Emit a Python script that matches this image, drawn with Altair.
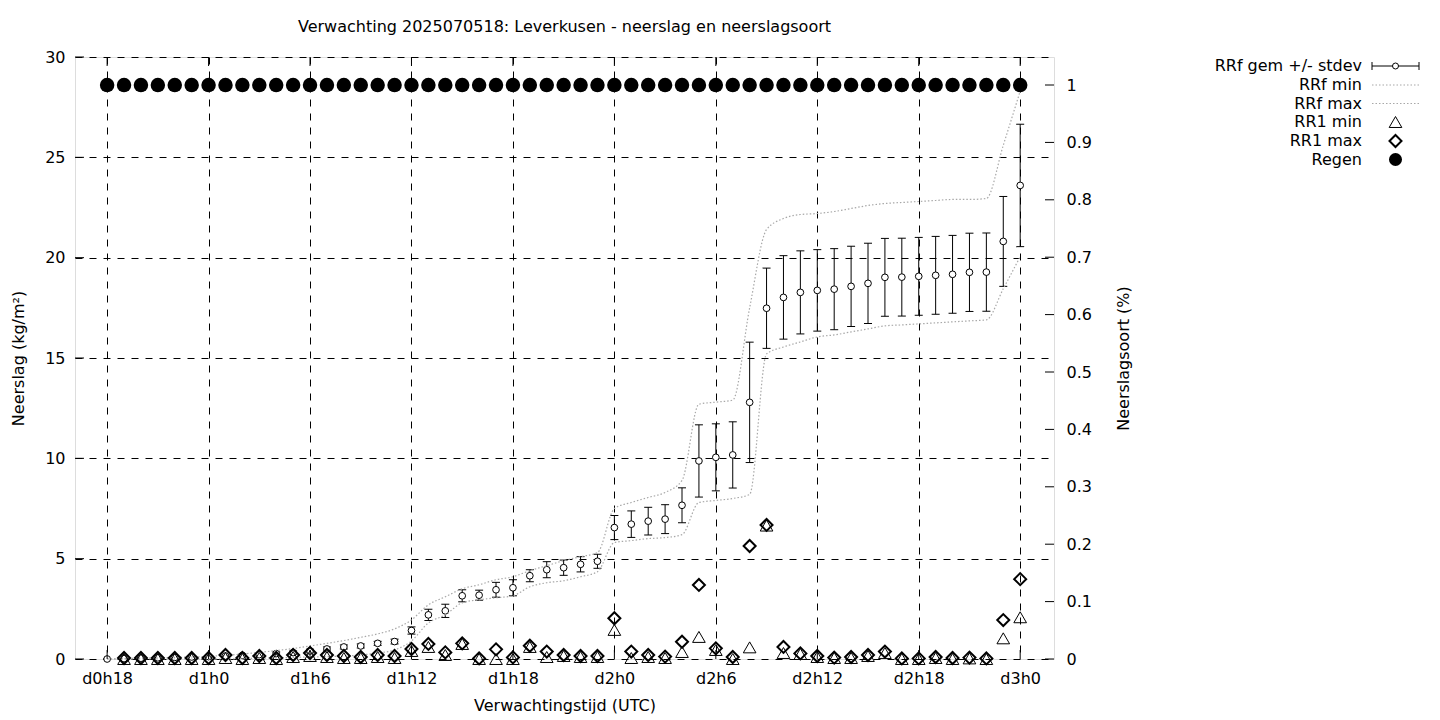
import altair as alt
import pandas as pd

# Forecast hours (lead time in hours from the 2025070518 run)
hours = list(range(18, 73))

# RRf: accumulated precipitation, ensemble mean / stdev / min / max (kg/m2)
rrf_mean = [0.0, 0.02, 0.04, 0.06, 0.08, 0.1, 0.12, 0.15, 0.18, 0.22,
            0.27, 0.32, 0.4, 0.5, 0.6, 0.65, 0.78, 0.87, 1.42, 2.2,
            2.4, 3.15, 3.18, 3.45, 3.55, 4.15, 4.45, 4.55, 4.72, 4.87,
            6.55, 6.72, 6.87, 6.97, 7.66, 9.87, 10.05, 10.17, 12.79, 17.48,
            18.02, 18.27, 18.37, 18.43, 18.57, 18.72, 19.02, 19.03, 19.07, 19.12,
            19.17, 19.27, 19.28, 20.81, 23.6]
rrf_sd = [0.0, 0.02, 0.03, 0.04, 0.05, 0.05, 0.06, 0.06, 0.07, 0.07,
          0.08, 0.08, 0.09, 0.1, 0.1, 0.1, 0.1, 0.12, 0.18, 0.28,
          0.33, 0.3, 0.25, 0.37, 0.4, 0.3, 0.4, 0.38, 0.38, 0.35,
          0.6, 0.66, 0.69, 0.72, 0.87, 1.8, 1.67, 1.65, 3.0, 2.0,
          2.08, 2.07, 2.03, 2.02, 2.0, 2.0, 1.94, 1.94, 1.94, 1.94,
          1.94, 1.95, 1.95, 2.24, 3.05]
rrf_min = [0.0, 0.0, 0.0, 0.0, 0.0, 0.0, 0.0, 0.0, 0.02, 0.04,
           0.06, 0.08, 0.1, 0.12, 0.15, 0.2, 0.3, 0.45, 0.9, 1.8,
           2.2, 2.8, 2.95, 3.05, 3.15, 3.6, 3.8, 3.9, 4.1, 4.35,
           5.8, 5.9, 6.0, 6.05, 6.2, 7.8, 7.9, 8.0, 8.2, 15.2,
           15.55, 15.8, 16.05, 16.15, 16.3, 16.45, 16.6, 16.65, 16.7, 16.75,
           16.8, 16.85, 16.9, 18.45, 20.05]
rrf_max = [0.0, 0.02, 0.04, 0.06, 0.08, 0.1, 0.13, 0.18, 0.25, 0.33,
           0.42, 0.52, 0.65, 0.78, 0.92, 1.08, 1.25, 1.5, 1.95, 2.7,
           3.1, 3.5, 3.7, 3.95, 4.1, 4.4, 4.65, 4.9, 5.1, 5.3,
           7.5, 7.8, 8.05, 8.3, 8.9, 12.7, 12.8, 12.9, 17.5, 21.4,
           21.95, 22.15, 22.2, 22.3, 22.45, 22.6, 22.7, 22.75, 22.8, 22.85,
           22.9, 22.9, 22.95, 25.6, 28.3]

# RR1: hourly precipitation, ensemble min / max (no value at the first step)
rr1_min = [None, 0.0, 0.0, 0.0, 0.0, 0.0, 0.0, 0.05, 0.0, 0.05,
           0.0, 0.1, 0.15, 0.1, 0.05, 0.05, 0.1, 0.05, 0.4, 0.6,
           0.2, 0.75, 0.0, 0.0, 0.0, 0.6, 0.1, 0.15, 0.1, 0.1,
           1.45, 0.05, 0.1, 0.05, 0.35, 1.1, 0.45, 0.0, 0.58, 6.65,
           0.3, 0.25, 0.1, 0.05, 0.05, 0.15, 0.3, 0.0, 0.0, 0.05,
           0.0, 0.03, 0.0, 1.03, 2.08]
rr1_max = [None, 0.05, 0.05, 0.05, 0.05, 0.05, 0.05, 0.2, 0.05, 0.15,
           0.05, 0.2, 0.3, 0.2, 0.15, 0.1, 0.2, 0.15, 0.5, 0.75,
           0.33, 0.78, 0.03, 0.48, 0.08, 0.66, 0.37, 0.2, 0.15, 0.15,
           2.03, 0.37, 0.2, 0.12, 0.86, 3.69, 0.53, 0.1, 5.63, 6.68,
           0.6, 0.28, 0.15, 0.07, 0.1, 0.2, 0.37, 0.03, 0.03, 0.1,
           0.05, 0.07, 0.03, 1.94, 3.98]

# Precipitation type fraction (rain) on the right axis
regen = [1, 1, 1, 1, 1, 1, 1, 1, 1, 1, 1, 1, 1, 1, 1, 1, 1, 1, 1, 1,
         1, 1, 1, 1, 1, 1, 1, 1, 1, 1, 1, 1, 1, 1, 1, 1, 1, 1, 1, 1,
         1, 1, 1, 1, 1, 1, 1, 1, 1, 1, 1, 1, 1, 1, 1]

x_ticks = [18, 24, 30, 36, 42, 48, 54, 60, 66, 72]
y_ticks = [0, 5, 10, 15, 20, 25, 30]
y2_ticks = [0, 0.1, 0.2, 0.3, 0.4, 0.5, 0.6, 0.7, 0.8, 0.9, 1.0]

W, H = 979, 602
FONT = "DejaVu Sans"
FS = 16
TICK = 9

df = pd.DataFrame({
    "h": hours, "mean": rrf_mean, "sd": rrf_sd, "lo": rrf_min, "hi": rrf_max,
    "rmin": rr1_min, "rmax": rr1_max, "regen": regen,
})
df["top"] = df["mean"] + df["sd"]
df["bot"] = df["mean"] - df["sd"]

x_scale = alt.Scale(domain=[16.1, 74.0], nice=False, zero=False)
y_scale = alt.Scale(domain=[0, 30], nice=False)
y2_scale = alt.Scale(domain=[0, 1.0488], nice=False)

x_axis = alt.Axis(
    values=x_ticks, title="Verwachtingstijd (UTC)", ticks=False, domain=False,
    grid=True, gridColor="black", gridDash=[7, 7], gridOpacity=1, gridWidth=1,
    labelExpr="'d' + floor(datum.value / 24) + 'h' + (datum.value % 24)",
    labelFont=FONT, labelFontSize=FS, labelColor="black", labelPadding=11,
    titleFont=FONT, titleFontSize=FS, titleFontWeight="normal", titleColor="black",
    titlePadding=11,
)
y_axis = alt.Axis(
    values=y_ticks, title="Neerslag (kg/m²)", ticks=False, domain=False,
    grid=True, gridColor="black", gridDash=[7, 7], gridOpacity=1, gridWidth=1,
    format="d", labelFont=FONT, labelFontSize=FS, labelColor="black", labelPadding=10,
    titleFont=FONT, titleFontSize=FS, titleFontWeight="normal", titleColor="black",
    titlePadding=18,
)
y2_axis = alt.Axis(
    values=y2_ticks, title="Neerslagsoort (%)", orient="right", ticks=False, domain=False,
    grid=False, format="~g", labelFont=FONT, labelFontSize=FS, labelColor="black",
    labelPadding=12, titleFont=FONT, titleFontSize=FS, titleFontWeight="normal",
    titleColor="black", titlePadding=40, titleAngle=270,
)

X = alt.X("h:Q", scale=x_scale, axis=x_axis)

base = alt.Chart(df)

err = base.mark_rule(color="black", strokeWidth=1).encode(
    x=X, y=alt.Y("bot:Q", scale=y_scale, axis=y_axis), y2="top:Q")
cap_top = base.mark_tick(orient="horizontal", size=8, thickness=1, color="black", opacity=1).encode(
    x=X, y=alt.Y("top:Q", scale=y_scale, axis=y_axis))
cap_bot = base.mark_tick(orient="horizontal", size=8, thickness=1, color="black", opacity=1).encode(
    x=X, y=alt.Y("bot:Q", scale=y_scale, axis=y_axis))
mean_pts = base.mark_point(shape="circle", filled=True, fill="white", stroke="black",
                           strokeWidth=1, size=45, opacity=1).encode(
    x=X, y=alt.Y("mean:Q", scale=y_scale, axis=y_axis))

dotted = dict(interpolate="monotone", color="#a8a8a8", strokeDash=[1.5, 2], strokeWidth=1.2)
lo_line = base.mark_line(**dotted).encode(x=X, y=alt.Y("lo:Q", scale=y_scale, axis=y_axis))
hi_line = base.mark_line(**dotted).encode(x=X, y=alt.Y("hi:Q", scale=y_scale, axis=y_axis))

tri = base.mark_point(shape="triangle-up", filled=False, stroke="black", strokeWidth=1,
                      size=160, opacity=1).encode(
    x=X, y=alt.Y("rmin:Q", scale=y_scale, axis=y_axis))
dia = base.mark_point(shape="diamond", filled=False, stroke="black", strokeWidth=2,
                      size=144, opacity=1).encode(
    x=X, y=alt.Y("rmax:Q", scale=y_scale, axis=y_axis))

# Inward tick marks on the border
xt = alt.Chart(pd.DataFrame({"v": x_ticks}))
yt = alt.Chart(pd.DataFrame({"v": y_ticks}))
y2t = alt.Chart(pd.DataFrame({"v": y2_ticks}))
Xv = alt.X("v:Q", scale=x_scale, axis=x_axis)
tick_bottom = xt.mark_rule(color="black").encode(x=Xv, y=alt.value(H - TICK), y2=alt.value(H))
tick_top = xt.mark_rule(color="black").encode(x=Xv, y=alt.value(0), y2=alt.value(TICK))
tick_left = yt.mark_rule(color="black").encode(
    y=alt.Y("v:Q", scale=y_scale, axis=y_axis), x=alt.value(0), x2=alt.value(TICK))
tick_right = y2t.mark_rule(color="black").encode(
    y=alt.Y("v:Q", scale=y2_scale, axis=y2_axis), x=alt.value(W - TICK), x2=alt.value(W))

regen_pts = base.mark_circle(size=210, color="black", opacity=1).encode(
    x=X, y=alt.Y("regen:Q", scale=y2_scale, axis=y2_axis))

# Key, placed to the right of the plot
one = alt.Chart(pd.DataFrame({"k": [0]}))
KX_TEXT, KX0, KX1 = 1287, 1297, 1344
KXM = (KX0 + KX1) / 2
rows = [9, 28, 46.5, 65, 84, 102.5]
labels = ["RRf gem +/- stdev", "RRf min", "RRf max", "RR1 min", "RR1 max", "Regen"]

key = []
for lab, ry in zip(labels, rows):
    key.append(one.mark_text(align="right", baseline="middle", font=FONT, fontSize=FS,
                             color="black", text=lab).encode(
        x=alt.value(KX_TEXT), y=alt.value(ry)))
key.append(one.mark_rule(color="black").encode(
    x=alt.value(KX0), x2=alt.value(KX1), y=alt.value(rows[0])))
key.append(one.mark_rule(color="black").encode(
    x=alt.value(KX0), y=alt.value(rows[0] - 4), y2=alt.value(rows[0] + 4)))
key.append(one.mark_rule(color="black").encode(
    x=alt.value(KX1), y=alt.value(rows[0] - 4), y2=alt.value(rows[0] + 4)))
key.append(one.mark_point(shape="circle", filled=True, fill="white", stroke="black",
                          strokeWidth=1, size=36, opacity=1).encode(
    x=alt.value(KXM), y=alt.value(rows[0])))
for ry in rows[1:3]:
    key.append(one.mark_rule(color="#a8a8a8", strokeDash=[1.5, 2], strokeWidth=1.2).encode(
        x=alt.value(KX0), x2=alt.value(KX1), y=alt.value(ry)))
key.append(one.mark_point(shape="triangle-up", filled=False, stroke="black", strokeWidth=1,
                          size=160, opacity=1).encode(x=alt.value(KXM), y=alt.value(rows[3])))
key.append(one.mark_point(shape="diamond", filled=False, stroke="black", strokeWidth=2,
                          size=144, opacity=1).encode(x=alt.value(KXM), y=alt.value(rows[4])))
key.append(one.mark_circle(size=170, color="black", opacity=1).encode(
    x=alt.value(KXM), y=alt.value(rows[5])))

left = alt.layer(err, cap_top, cap_bot, mean_pts, lo_line, hi_line, tri, dia,
                 tick_bottom, tick_top, tick_left, *key)
right = alt.layer(regen_pts, tick_right)

chart = alt.layer(left, right).resolve_scale(y="independent").properties(
    width=W, height=H,
    autosize=alt.AutoSizeParams(type="none"),
    padding={"left": 75, "top": 57, "right": 1440 - 75 - W, "bottom": 720 - 57 - H},
    title=alt.TitleParams(
        text="Verwachting 2025070518: Leverkusen - neerslag en neerslagsoort",
        font=FONT, fontSize=FS, fontWeight="normal", color="black",
        anchor="middle", frame="group", baseline="alphabetic", offset=1),
).configure_view(stroke="black", strokeWidth=1).configure(background="white")

chart.save("out.html", embed_options={"renderer": "svg", "actions": False})
